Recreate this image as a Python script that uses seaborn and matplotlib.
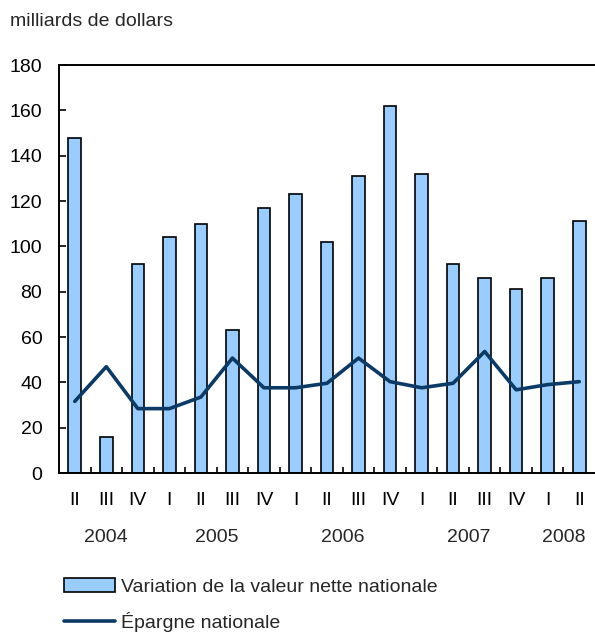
import matplotlib
matplotlib.use("Agg")
import matplotlib.pyplot as plt
import matplotlib.transforms as mtransforms
from matplotlib.patches import Patch
from matplotlib.lines import Line2D
import numpy as np
import pandas as pd
import seaborn as sns

quarters = ["II", "III", "IV", "I", "II", "III", "IV", "I", "II", "III", "IV",
            "I", "II", "III", "IV", "I", "II"]
years = ["2004", "2005", "2006", "2007", "2008"]
year_centers = [1, 4.5, 8.5, 12.5, 15.5]
valeur_nette = [148, 16, 92, 104, 110, 63, 117, 123, 102, 131, 162, 132,
                92, 86, 81, 86, 111]
epargne = [31.6, 46.9, 28.4, 28.4, 33.5, 50.7, 37.6, 37.6, 39.6, 50.7, 40.3,
           37.6, 39.6, 53.6, 36.7, 39.0, 40.3]

sns.set_style("white")
plt.rcParams['font.family'] = ['Liberation Sans', 'DejaVu Sans']

df = pd.DataFrame({"pos": [f"q{i}" for i in range(len(quarters))],
                   "idx": np.arange(len(quarters)),
                   "valeur": valeur_nette, "epargne": epargne})

fig = plt.figure(figsize=(5.95, 6.35), dpi=100)
ax = fig.add_axes([59/595, 1-473/635, 1.0-59/595, (473-65)/635])

bar_color = "#99CCFF"
line_color = "#0B3A66"
sns.barplot(data=df, x="pos", y="valeur", color=bar_color, edgecolor="black",
            linewidth=1.2, width=0.4, saturation=1, ax=ax)
sns.lineplot(data=df, x="idx", y="epargne", color=line_color, linewidth=2.6,
             ax=ax)

ax.set_xlim(-0.5, 16.5)
ax.set_ylim(0, 180)
ax.set_yticks(np.arange(0, 181, 20))
ax.set_xlabel("")
ax.set_ylabel("")
ax.set_xticks(np.arange(len(quarters)))
ax.set_xticklabels(quarters)
ax.set_xticks(np.arange(0.5, 16, 1), minor=True)
fs = 14
ax.tick_params(axis="x", which="major", length=0, pad=14, labelsize=fs,
               colors="black")
ax.tick_params(axis="x", which="minor", length=4, width=1.2, direction="in",
               bottom=True, color="black")
ax.tick_params(axis="y", which="major", length=5, width=1.2, direction="in",
               left=True, pad=12, labelsize=fs, colors="black")
for s in ["left", "bottom", "top"]:
    ax.spines[s].set_visible(True)
    ax.spines[s].set_color("black")
    ax.spines[s].set_linewidth(1.4)
ax.spines["right"].set_visible(False)
ax.grid(False)

trans = mtransforms.blended_transform_factory(ax.transData, fig.transFigure)
for yr, c in zip(years, year_centers):
    ax.text(c, 1-538/635, yr, transform=trans, ha="center", va="center",
            fontsize=fs)

fig.text(10/595, 1-26/635, "milliards de dollars", ha="left", va="baseline",
         fontsize=fs)

handles = [Patch(facecolor=bar_color, edgecolor="black", linewidth=1.2),
           Line2D([0], [0], color=line_color, linewidth=2.6)]
labels = ["Variation de la valeur nette nationale", "Épargne nationale"]
fig.legend(handles, labels, loc="upper left",
           bbox_to_anchor=(64/595, 1-578/635), frameon=False, fontsize=fs,
           handlelength=2.6, handletextpad=0.35, labelspacing=0.85,
           borderaxespad=0, borderpad=0)

fig.savefig("out.png", dpi=100)
